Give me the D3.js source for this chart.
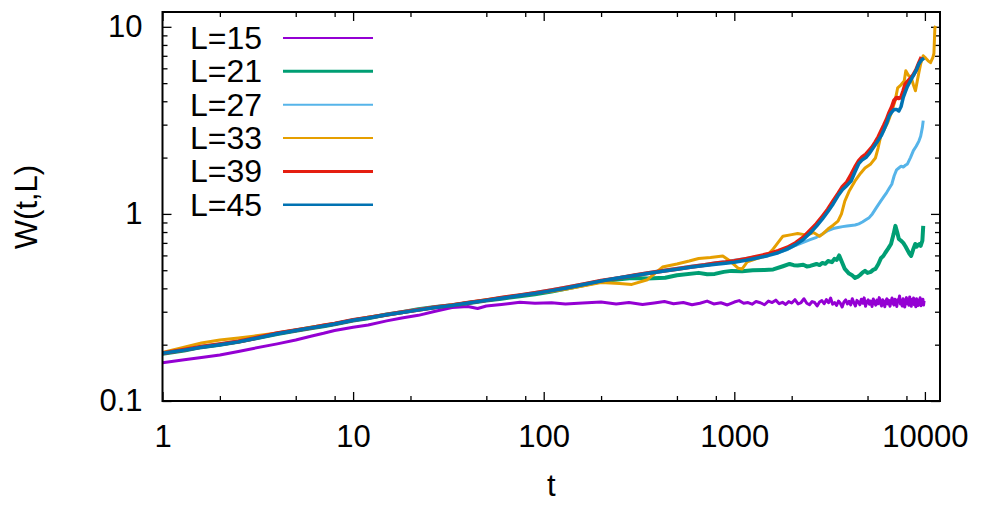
<!DOCTYPE html>
<html>
<head>
<meta charset="utf-8">
<script src="https://cdn.jsdelivr.net/npm/d3@7"></script>
<style>
  body { margin: 0; background: #fff; }
  text { font-family: "Liberation Sans", Arial, sans-serif; fill: #000; }
</style>
</head>
<body>
<div id="chart"></div>
<script>
// series labels and gnuplot default colours
var labels = ["L=15", "L=21", "L=27", "L=33", "L=39", "L=45"];
var colors = ["#9400d3", "#009e73", "#56b4e9", "#e69f00", "#e51e10", "#0072b2"];
var widths = [2, 3, 2, 2, 3, 2.5];

var xMajor = [1, 10, 100, 1000, 10000];
var xMajorLabels = ["1", "10", "100", "1000", "10000"];
var xMinor = [2, 5, 8, 20, 50, 80, 200, 500, 800, 2000, 5000, 8000];
var yMajor = [0.1, 1, 10];
var yMajorLabels = ["0.1", "1", "10"];
var yMinor = [0.2, 0.3, 0.4, 0.5, 0.6, 0.7, 0.8, 0.9, 2, 3, 4, 5, 6, 7, 8, 9];

// [t, W(t,L)]
var w15 = [[1,0.160],[1.3,0.166],[1.6,0.171],[2,0.176],[2.5,0.184],[3,0.191],[4,0.202],[5,0.212],[6,0.222],[7,0.230],[8,0.238],[10,0.248],[12,0.255],[15,0.268],[18,0.278],[22,0.287],[27,0.302],[33,0.316],[40,0.320],[45,0.312],[50,0.322],[60,0.328],[75,0.337],[90,0.333],[110,0.335],[130,0.330],[160,0.334],
  [200,0.338],[240,0.330],[280,0.336],[330,0.328],[380,0.334],[430,0.340],[480,0.331],[540,0.336],[600,0.327],[660,0.333],[720,0.342],[780,0.330],[850,0.335],[920,0.326],
  [1000,0.338],[1060,0.344],[1120,0.333],[1180,0.336],[1240,0.329],[1300,0.340],[1370,0.335],[1440,0.327],[1510,0.342],[1580,0.336],[1650,0.346],[1720,0.331],[1790,0.337],[1860,0.328],[1930,0.340],[2000,0.334],[2080,0.348],[2160,0.330],[2240,0.336],[2320,0.352],[2400,0.333],[2480,0.327],[2560,0.340],[2640,0.336],[2720,0.322],[2800,0.338],[2880,0.344],[2960,0.331],[3040,0.348],[3120,0.335],[3200,0.355],[3280,0.329],[3360,0.336],[3440,0.324],[3520,0.342],[3600,0.333],[3680,0.318],[3760,0.338],[3840,0.347],[3920,0.330],[4000,0.341],[4080,0.326],[4160,0.352],[4240,0.335],[4320,0.322],[4400,0.345],[4480,0.338],[4560,0.327],[4640,0.350],[4720,0.333],[4800,0.356],[4880,0.321],[4960,0.339],[5040,0.347],[5120,0.329],[5200,0.342],[5280,0.320],[5360,0.351],[5440,0.336],[5520,0.325],[5600,0.346],[5680,0.331],[5760,0.357],[5840,0.334],[5920,0.322],[6000,0.348],[6080,0.338],[6160,0.319],[6240,0.343],[6320,0.352],[6400,0.330],[6480,0.345],[6560,0.321],[6640,0.340],[6720,0.355],[6800,0.333],[6880,0.326],[6960,0.350],[7040,0.337],[7120,0.320],[7200,0.348],[7280,0.341],[7360,0.364],[7440,0.330],[7520,0.345],[7600,0.322],[7680,0.352],[7760,0.336],[7840,0.318],[7920,0.344],[8000,0.357],[8080,0.331],[8160,0.347],[8240,0.325],[8320,0.360],[8400,0.338],[8480,0.321],[8560,0.349],[8640,0.334],[8720,0.355],[8800,0.327],[8880,0.343],[8960,0.319],[9040,0.352],[9120,0.336],[9200,0.324],[9280,0.348],[9360,0.331],[9440,0.356],[9520,0.323],[9600,0.345],[9680,0.334],[9760,0.350],[9840,0.326],[9900,0.343]];

var w21 = [[1,0.179],[1.3,0.186],[1.6,0.194],[2,0.200],[2.5,0.207],[3,0.215],[4,0.228],[5,0.237],[6,0.245],[7,0.251],[8,0.257],[10,0.269],[12,0.277],[15,0.290],[18,0.298],[22,0.309],[27,0.318],[33,0.325],[40,0.333],[50,0.344],[60,0.352],[75,0.363],[90,0.372],[110,0.385],[130,0.398],[160,0.415],
  [200,0.436],[250,0.448],[290,0.455],[350,0.452],[434,0.456],[500,0.470],[650,0.484],[720,0.476],[790,0.478],[880,0.490],[965,0.496],[1100,0.494],[1250,0.500],[1440,0.502],[1600,0.505],[1800,0.525],[1950,0.540],[2050,0.532],[2150,0.530],[2300,0.535],[2400,0.524],[2500,0.527],[2700,0.540],[2800,0.533],[2900,0.547],[3000,0.541],[3100,0.560],[3250,0.552],[3350,0.575],[3450,0.568],[3550,0.600],[3650,0.560],[3800,0.508],[4000,0.480],[4150,0.470],[4300,0.455],[4450,0.462],[4550,0.470],[4700,0.485],[4850,0.496],[5000,0.484],[5200,0.490],[5350,0.502],[5500,0.508],[5700,0.540],[5890,0.582],[6050,0.596],[6200,0.620],[6400,0.650],[6640,0.691],[6850,0.780],[7000,0.863],[7150,0.800],[7300,0.735],[7500,0.718],[7700,0.700],[7900,0.672],[8150,0.634],[8300,0.612],[8470,0.596],[8700,0.650],[8900,0.691],[9050,0.668],[9200,0.680],[9350,0.690],[9500,0.674],[9700,0.720],[9800,0.863]];

var w27 = [[1,0.181],[1.3,0.188],[1.6,0.196],[2,0.202],[2.5,0.209],[3,0.217],[4,0.231],[5,0.240],[6,0.248],[7,0.254],[8,0.260],[10,0.272],[12,0.280],[15,0.291],[18,0.299],[22,0.308],[27,0.318],[33,0.326],[40,0.336],[50,0.347],[60,0.357],[75,0.369],[90,0.380],[110,0.393],[130,0.405],[160,0.422],
  [200,0.440],[250,0.458],[300,0.472],[350,0.485],[420,0.500],[500,0.512],[600,0.526],[700,0.536],[800,0.548],[900,0.556],[1000,0.566],[1150,0.578],[1300,0.590],[1500,0.605],[1700,0.622],[1900,0.645],[2100,0.680],[2300,0.705],[2500,0.728],[2700,0.750],[2900,0.780],[3100,0.815],[3300,0.835],[3500,0.845],[3700,0.855],[3900,0.862],[4100,0.868],[4300,0.872],[4500,0.885],[4700,0.905],[4900,0.930],[5100,0.955],[5300,1.00],[5500,1.06],[5700,1.12],[5900,1.18],[6100,1.24],[6300,1.30],[6500,1.37],[6700,1.44],[6900,1.60],[7100,1.72],[7300,1.76],[7500,1.80],[7700,1.78],[7900,1.82],[8100,1.85],[8400,2.00],[8700,2.18],[9000,2.30],[9300,2.45],[9500,2.60],[9700,2.90],[9800,3.15]];

var w33 = [[1,0.182],[1.3,0.194],[1.6,0.204],[2,0.212],[2.5,0.217],[3,0.222],[4,0.231],[5,0.240],[6,0.248],[7,0.254],[8,0.260],[10,0.271],[12,0.280],[15,0.290],[18,0.298],[22,0.306],[27,0.317],[33,0.326],[40,0.336],[50,0.348],[60,0.356],[75,0.368],[90,0.378],[110,0.386],[130,0.396],[160,0.412],
  [200,0.430],[250,0.425],[290,0.420],[350,0.445],[420,0.520],[500,0.540],[580,0.560],[650,0.578],[750,0.585],[870,0.596],[950,0.560],[1050,0.512],[1100,0.508],[1170,0.555],[1300,0.575],[1480,0.598],[1600,0.650],[1800,0.760],[2000,0.775],[2150,0.785],[2400,0.770],[2600,0.795],[2800,0.760],[2900,0.780],[3100,0.830],[3300,0.870],[3500,0.915],[3650,1.00],[3800,1.17],[4000,1.32],[4300,1.50],[4600,1.65],[4850,1.76],[5200,1.85],[5500,1.99],[5680,2.25],[5890,2.65],[6180,2.88],[6400,3.10],[6640,3.43],[6970,4.02],[7200,4.72],[7500,4.90],[7790,5.14],[7940,5.82],[8200,5.50],[8470,5.34],[8700,4.90],[8920,4.55],[9120,5.14],[9300,5.70],[9500,6.34],[9800,7.00],[10100,6.80],[10400,6.58],[10700,6.43],[11000,6.85],[11150,7.20],[11280,9.88],[11400,10.1]];

var w39 = [[1,0.180],[1.3,0.188],[1.6,0.195],[2,0.201],[2.5,0.208],[3,0.216],[4,0.230],[5,0.239],[6,0.246],[7,0.253],[8,0.259],[10,0.271],[12,0.279],[15,0.289],[18,0.298],[22,0.307],[27,0.317],[33,0.325],[40,0.335],[50,0.346],[60,0.356],[75,0.368],[90,0.378],[110,0.391],[130,0.403],[160,0.420],
  [200,0.440],[250,0.455],[300,0.470],[350,0.482],[420,0.495],[500,0.508],[600,0.522],[700,0.533],[800,0.545],[900,0.552],[1000,0.560],[1150,0.575],[1300,0.590],[1500,0.610],[1700,0.635],[1900,0.662],[2100,0.700],[2300,0.748],[2500,0.815],[2700,0.885],[2900,0.970],[3100,1.06],[3300,1.17],[3500,1.28],[3700,1.40],[3900,1.48],[4100,1.62],[4300,1.78],[4500,1.92],[4700,2.02],[4900,2.08],[5100,2.18],[5300,2.28],[5500,2.42],[5700,2.58],[5900,2.78],[6100,2.98],[6300,3.20],[6500,3.48],[6700,3.72],[6900,4.05],[7100,4.18],[7300,4.15],[7500,4.20],[7700,4.55],[7900,4.95],[8100,5.10],[8400,5.30],[8700,5.55],[9000,5.90],[9300,6.40],[9600,6.90]];

var w45 = [[1,0.180],[1.3,0.187],[1.6,0.194],[2,0.200],[2.5,0.207],[3,0.215],[4,0.229],[5,0.238],[6,0.246],[7,0.252],[8,0.258],[10,0.270],[12,0.278],[15,0.289],[18,0.297],[22,0.306],[27,0.316],[33,0.324],[40,0.334],[50,0.345],[60,0.354],[75,0.366],[90,0.376],[110,0.389],[130,0.401],[160,0.418],
  [200,0.438],[250,0.456],[300,0.468],[350,0.480],[420,0.494],[500,0.506],[600,0.520],[700,0.530],[800,0.538],[900,0.545],[1000,0.552],[1150,0.565],[1300,0.580],[1500,0.598],[1700,0.620],[1900,0.650],[2100,0.685],[2300,0.730],[2500,0.790],[2700,0.860],[2900,0.940],[3100,1.03],[3300,1.13],[3500,1.25],[3700,1.35],[3900,1.42],[4100,1.50],[4300,1.68],[4500,1.86],[4700,1.95],[4900,2.00],[5100,2.10],[5300,2.22],[5500,2.35],[5700,2.48],[5900,2.62],[6100,2.82],[6300,3.05],[6500,3.35],[6700,3.50],[6900,3.62],[7100,3.62],[7300,3.55],[7500,3.75],[7700,4.20],[7900,4.50],[8100,4.80],[8400,5.15],[8700,5.50],[9000,5.85],[9300,6.35],[9600,6.65],[9900,6.80]];

var allSeries = [w15, w21, w27, w33, w39, w45];

var width = 984, height = 514;
var plotLeft = 162.5, plotRight = 940, plotTop = 12, plotBottom = 401;

var svg = d3.select("#chart").append("svg")
    .attr("width", width)
    .attr("height", height);

var x = d3.scaleLog().domain([1, 12000]).range([plotLeft, plotRight]);
var y = d3.scaleLog().domain([0.1, 12]).range([plotBottom, plotTop]);

svg.append("clipPath").attr("id", "plotClip")
  .append("rect")
    .attr("x", plotLeft).attr("y", plotTop)
    .attr("width", plotRight - plotLeft).attr("height", plotBottom - plotTop);

// ticks: gnuplot style, inward and mirrored
function drawAxis(axis, tx, ty) {
    var g = svg.append("g").attr("transform", "translate(" + tx + "," + ty + ")").call(axis);
    g.select(".domain").remove();
    g.selectAll(".tick line").attr("stroke", "#000").attr("stroke-width", 1.3);
    g.selectAll("text").style("font-size", "31px").attr("fill", "#000");
    return g;
}

var fmtX = function(d, i) { return xMajorLabels[i]; };
var fmtY = function(d, i) { return yMajorLabels[i]; };

drawAxis(d3.axisBottom(x).tickValues(xMajor).tickFormat(fmtX).tickSize(-9).tickPadding(24), 0, plotBottom);
drawAxis(d3.axisBottom(x).tickValues(xMinor).tickFormat("").tickSize(-5), 0, plotBottom);
drawAxis(d3.axisTop(x).tickValues(xMajor).tickFormat("").tickSize(-9), 0, plotTop);
drawAxis(d3.axisTop(x).tickValues(xMinor).tickFormat("").tickSize(-5), 0, plotTop);

drawAxis(d3.axisLeft(y).tickValues(yMajor).tickFormat(fmtY).tickSize(-9).tickPadding(20), plotLeft, 0);
drawAxis(d3.axisLeft(y).tickValues(yMinor).tickFormat("").tickSize(-5), plotLeft, 0);
drawAxis(d3.axisRight(y).tickValues(yMajor).tickFormat("").tickSize(-9), plotRight, 0);
drawAxis(d3.axisRight(y).tickValues(yMinor).tickFormat("").tickSize(-5), plotRight, 0);

// curves
var line = d3.line()
    .x(function(d) { return x(d[0]); })
    .y(function(d) { return y(d[1]); });

var linesG = svg.append("g").attr("clip-path", "url(#plotClip)");
linesG.selectAll(".curve")
    .data(allSeries)
  .enter()
    .append("path")
    .attr("class", "curve")
    .attr("d", line)
    .attr("fill", "none")
    .attr("stroke", function(d, i) { return colors[i]; })
    .attr("stroke-width", function(d, i) { return widths[i] + 1; })
    .attr("stroke-linejoin", "round");

// frame
svg.append("rect")
    .attr("x", plotLeft).attr("y", plotTop)
    .attr("width", plotRight - plotLeft).attr("height", plotBottom - plotTop)
    .attr("fill", "none")
    .attr("stroke", "#000")
    .attr("stroke-width", 2);

// legend
var legendRow = svg.append("g").selectAll(".legendRow")
    .data(labels)
  .enter()
    .append("g")
    .attr("class", "legendRow")
    .attr("transform", function(d, i) { return "translate(0," + (38 + i * 33.35) + ")"; });

legendRow.append("text")
    .attr("x", 190)
    .attr("y", 11)
    .style("font-size", "32px")
    .text(function(d) { return d; });

legendRow.append("line")
    .attr("x1", 283).attr("x2", 373)
    .attr("y1", 0).attr("y2", 0)
    .attr("stroke", function(d, i) { return colors[i]; })
    .attr("stroke-width", function(d, i) { return widths[i]; });

// axis titles
svg.append("text")
    .attr("x", (plotLeft + plotRight) / 2)
    .attr("y", 496)
    .attr("text-anchor", "middle")
    .style("font-size", "31px")
    .text("t");

svg.append("text")
    .attr("transform", "translate(37,207) rotate(-90)")
    .attr("text-anchor", "middle")
    .style("font-size", "31px")
    .text("W(t,L)");
</script>
</body>
</html>
